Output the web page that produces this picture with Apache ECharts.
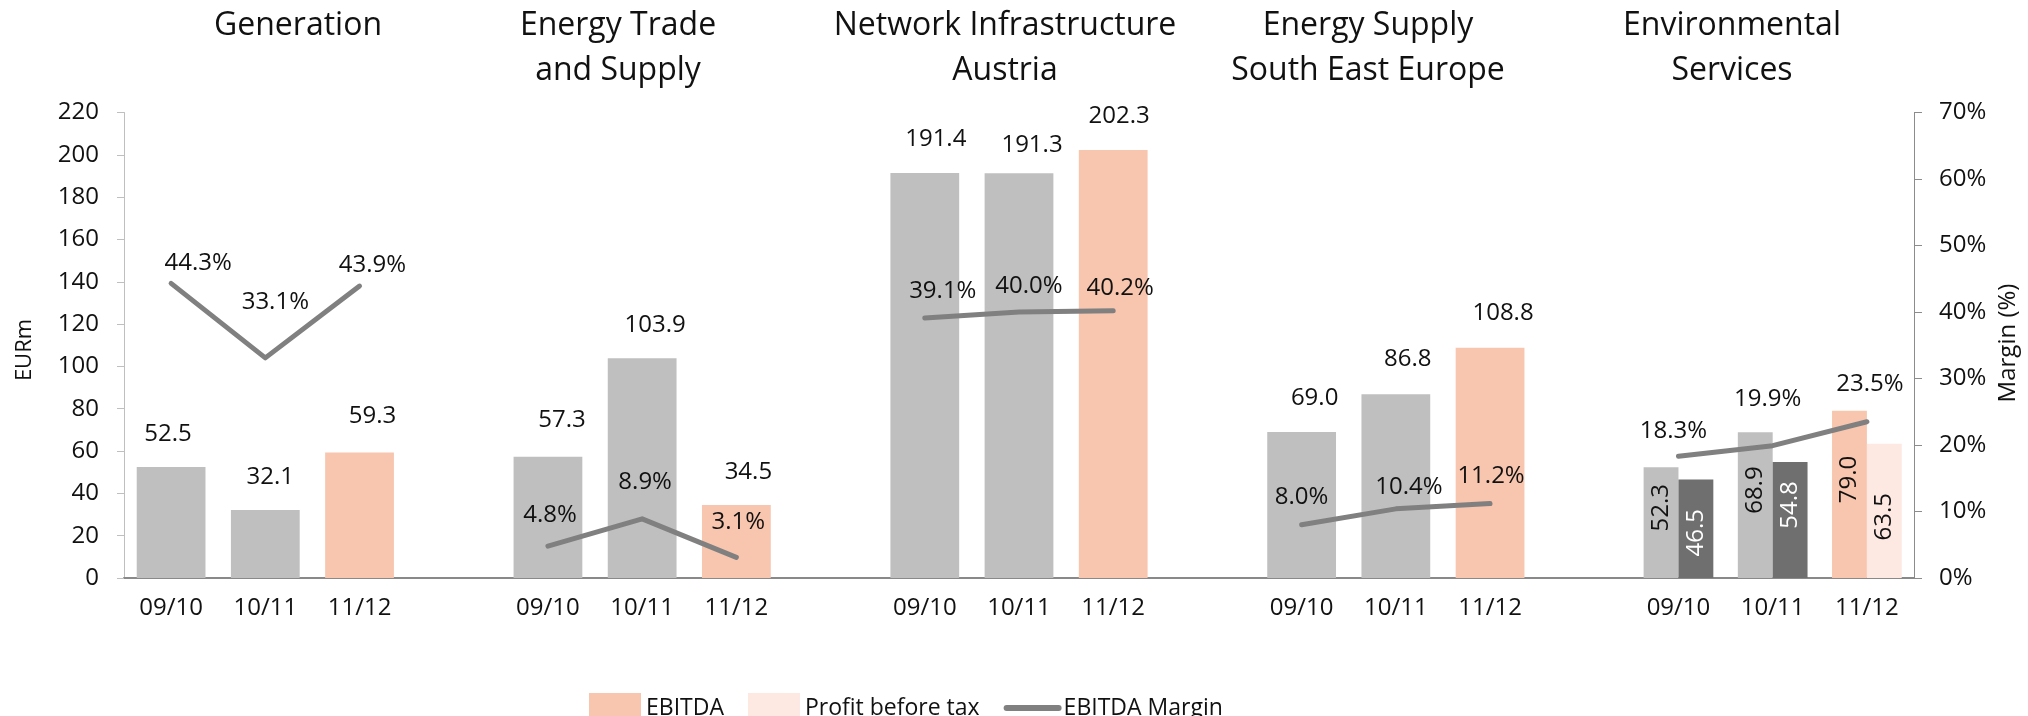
<!DOCTYPE html>
<html>
<head>
<meta charset="utf-8">
<script src="https://cdn.jsdelivr.net/npm/echarts@6/dist/echarts.min.js"></script>
<style>
  html, body { margin: 0; padding: 0; background: #ffffff; }
  #chart { width: 2028px; height: 716px; }
</style>
</head>
<body>
<div id="chart"></div>
<script>
// ---- Data -------------------------------------------------------------
const segments = [
  'Generation',
  'Energy Trade\nand Supply',
  'Network Infrastructure\nAustria',
  'Energy Supply\nSouth East Europe',
  'Environmental\nServices'
];
const periods = ['09/10', '10/11', '11/12'];

// EBITDA per segment and business year, EURm (segment order as above)
const ebitda = [52.5, 32.1, 59.3, 57.3, 103.9, 34.5, 191.4, 191.3, 202.3, 69.0, 86.8, 108.8, 52.3, 68.9, 79.0];
// Profit before tax, Environmental Services, EURm
const envProfitBeforeTax = [46.5, 54.8, 63.5];
// EBITDA margin per segment and business year, %
const ebitdaMargin = [44.3, 33.1, 43.9, 4.8, 8.9, 3.1, 39.1, 40.0, 40.2, 8.0, 10.4, 11.2, 18.3, 19.9, 23.5];

// Axis scales
const eurAxis = { min: 0, max: 220, interval: 20 };
const marginAxis = { min: 0, max: 70, interval: 10 };

// ---- Styling / layout -------------------------------------------------
const FONT = '"Open Sans", "Noto Sans", sans-serif';
const TEXT = '#111111';
const COLOR = {
  ebitdaPast: '#bfbfbf',
  ebitdaLatest: '#f8c5ae',
  pbtPast: '#6f6f6f',
  pbtLatest: '#fde9e2',
  margin: '#808080'
};
const titleCenters = [298, 618, 1005, 1368, 1732];
// label nudges: [dx, rise of label centre above the bar top / line point]
const barLabelShift = [
  [-3, 33], [5, 33], [13, 36],
  [14, 37], [13, 33], [12, 33],
  [11, 34], [13, 28], [6, 34],
  [13, 34], [12, 35], [13, 35]
];
const marginLabelShift = [
  [27, 20], [10, 56], [13, 21],
  [2, 31], [3, 37], [2, 35],
  [18, 27], [10, 26], [7, 23],
  [0, 28], [13, 22], [1, 27],
  [-5, 25], [-5, 47], [3, 38]
];
// vertical screen nudges of the rotated labels inside the Environmental Services bars
const envEbitdaLabelDy = [-15, -15, -15];
const envPbtLabelDy = [4, -15, 6];

// ---- Build category axis (three years per segment, blank slot between) --
const categories = [];
const slotOf = [];       // slotOf[segment*3 + period] -> category index
segments.forEach((s, si) => {
  periods.forEach((p) => {
    slotOf.push(categories.length);
    categories.push(p);
  });
  if (si < segments.length - 1) categories.push('');
});

const blank = () => categories.map(() => null);
const fmt1 = (p) => (p.value == null ? '' : Number(p.value).toFixed(1));

// Full-width EBITDA bars for the first four segments
const singleBars = blank();
for (let i = 0; i < 12; i++) {
  const latest = i % 3 === 2;
  const [dx, rise] = barLabelShift[i];
  singleBars[slotOf[i]] = {
    value: ebitda[i],
    itemStyle: { color: latest ? COLOR.ebitdaLatest : COLOR.ebitdaPast },
    label: { offset: [dx, -(rise - 12)] }
  };
}

// Environmental Services: EBITDA next to Profit before tax.
// The labels are turned 90 degrees, so their offset is given in the turned frame:
// the first component moves the text up the bar.
const envEbitda = blank();
const envPbt = blank();
for (let p = 0; p < 3; p++) {
  const i = 12 + p;
  const latest = p === 2;
  envEbitda[slotOf[i]] = {
    value: ebitda[i],
    itemStyle: { color: latest ? COLOR.ebitdaLatest : COLOR.ebitdaPast },
    label: { color: TEXT, offset: [-envEbitdaLabelDy[p], 0] }
  };
  envPbt[slotOf[i]] = {
    value: envProfitBeforeTax[p],
    itemStyle: { color: latest ? COLOR.pbtLatest : COLOR.pbtPast },
    label: { color: latest ? TEXT : '#ffffff', offset: [-envPbtLabelDy[p], 0] }
  };
}

// Margin line, broken between segments
const marginLine = blank();
ebitdaMargin.forEach((v, i) => {
  const [dx, rise] = marginLabelShift[i];
  marginLine[slotOf[i]] = { value: v, label: { offset: [dx, -(rise - 13)] } };
});

// ---- Chart ------------------------------------------------------------
const chart = echarts.init(document.getElementById('chart'), null, { renderer: 'canvas' });

const titleGraphics = segments.map((s, i) => ({
  type: 'text',
  x: titleCenters[i],
  y: 3,
  silent: true,
  style: {
    text: s,
    fontSize: 32,
    fontFamily: FONT,
    fill: TEXT,
    lineHeight: 45,
    align: 'center',
    textAlign: 'center',
    verticalAlign: 'top',
    textVerticalAlign: 'top'
  }
}));

const axisNameStyle = (size) => ({
  fontSize: size, fontFamily: FONT, fill: TEXT,
  align: 'center', textAlign: 'center',
  verticalAlign: 'middle', textVerticalAlign: 'middle'
});

const insideRotated = {
  show: true, position: 'inside', rotate: 90,
  align: 'center', verticalAlign: 'middle',
  fontSize: 24, fontFamily: FONT, formatter: fmt1
};

chart.setOption({
  animation: false,
  backgroundColor: '#ffffff',
  textStyle: { fontFamily: FONT, color: TEXT },
  grid: { left: 124, right: 114, top: 112.5, bottom: 138 },
  graphic: titleGraphics.concat([
    { type: 'text', x: 25, y: 350, rotation: Math.PI / 2, silent: true,
      style: Object.assign({ text: 'EURm' }, axisNameStyle(22)) },
    { type: 'text', x: 2008, y: 343, rotation: Math.PI / 2, silent: true,
      style: Object.assign({ text: 'Margin (%)' }, axisNameStyle(24)) }
  ]),
  legend: {
    left: 584,
    top: 688,
    itemWidth: 52,
    itemHeight: 30,
    itemGap: 24,
    selectedMode: false,
    textStyle: { fontSize: 23, color: TEXT, fontFamily: FONT },
    data: [
      { name: 'EBITDA', icon: 'rect' },
      { name: 'Profit before tax', icon: 'rect' },
      {
        name: 'EBITDA Margin',
        itemStyle: { opacity: 0 },
        lineStyle: { color: COLOR.margin, width: 6, cap: 'round' }
      }
    ]
  },
  xAxis: [
    {
      type: 'category',
      data: categories,
      axisLine: { lineStyle: { color: '#898989', width: 2 } },
      axisTick: { interval: 0, length: 8, lineStyle: { color: '#898989', width: 1.5 } },
      axisLabel: { interval: 0, fontSize: 24, color: TEXT, margin: 18, fontFamily: FONT }
    },
    {
      type: 'category',
      data: categories,
      show: false
    }
  ],
  yAxis: [
    {
      type: 'value',
      min: eurAxis.min, max: eurAxis.max, interval: eurAxis.interval,
      axisLine: { show: true, lineStyle: { color: '#bfbfbf', width: 1 } },
      axisTick: { show: true, length: 7, lineStyle: { color: '#bfbfbf' } },
      axisLabel: { fontSize: 24, color: TEXT, margin: 25, fontFamily: FONT },
      splitLine: { show: false }
    },
    {
      type: 'value',
      position: 'right',
      min: marginAxis.min, max: marginAxis.max, interval: marginAxis.interval,
      axisLine: { show: true, lineStyle: { color: '#8c8c8c', width: 1 } },
      axisTick: { show: true, length: 8, lineStyle: { color: '#8c8c8c' } },
      axisLabel: { fontSize: 24, color: TEXT, margin: 25, formatter: '{value}%', fontFamily: FONT },
      splitLine: { show: false }
    }
  ],
  series: [
    {
      name: 'EBITDA',
      type: 'bar',
      xAxisIndex: 0,
      yAxisIndex: 0,
      barWidth: '73%',
      itemStyle: { color: COLOR.ebitdaLatest },
      label: {
        show: true, position: 'top', distance: 0,
        fontSize: 24, color: TEXT, fontFamily: FONT, formatter: fmt1
      },
      data: singleBars
    },
    {
      name: 'EBITDA',
      type: 'bar',
      xAxisIndex: 1,
      yAxisIndex: 0,
      barWidth: '37%',
      barGap: '0%',
      itemStyle: { color: COLOR.ebitdaLatest },
      label: insideRotated,
      data: envEbitda
    },
    {
      name: 'Profit before tax',
      type: 'bar',
      xAxisIndex: 1,
      yAxisIndex: 0,
      barWidth: '37%',
      barGap: '0%',
      itemStyle: { color: COLOR.pbtLatest },
      label: insideRotated,
      data: envPbt
    },
    {
      name: 'EBITDA Margin',
      type: 'line',
      xAxisIndex: 0,
      yAxisIndex: 1,
      symbol: 'circle',
      symbolSize: 2,
      showSymbol: true,
      connectNulls: false,
      itemStyle: { color: COLOR.margin },
      lineStyle: { color: COLOR.margin, width: 5, cap: 'round', join: 'round' },
      label: {
        show: true, position: 'top', distance: 0,
        fontSize: 24, color: TEXT, fontFamily: FONT,
        formatter: (p) => (p.value == null ? '' : Number(p.value).toFixed(1) + '%')
      },
      z: 5,
      data: marginLine
    }
  ]
});
</script>
</body>
</html>
